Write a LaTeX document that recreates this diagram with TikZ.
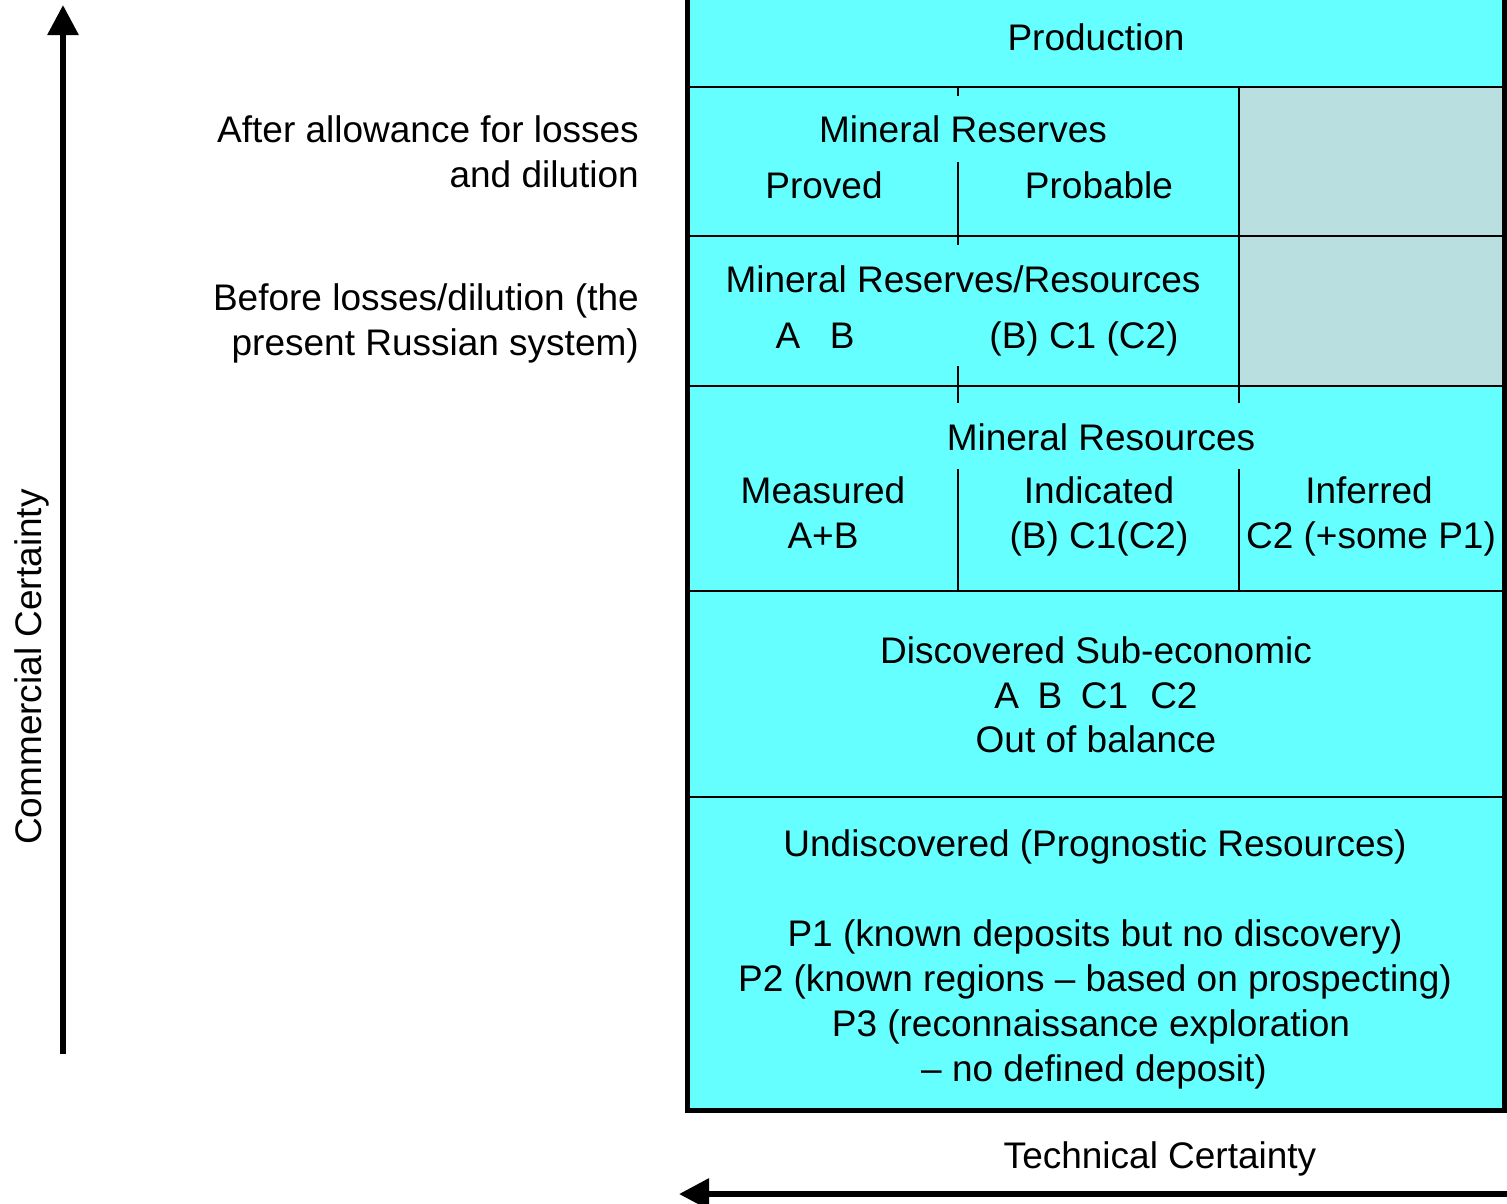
\documentclass[tikz,border=0pt]{standalone}
\usepackage{fontspec}
\setmainfont{Liberation Sans}
\usetikzlibrary{arrows.meta}
\definecolor{cellcyan}{HTML}{66FFFF}
\definecolor{cellgrey}{HTML}{B9DFE0}
\begin{document}
\begin{tikzpicture}[x=1pt,y=-1pt,
  lbl/.style={anchor=base, inner sep=0pt, font=\fontsize{37}{45}\selectfont},
  lblr/.style={lbl, anchor=base east},
  rule/.style={line width=2.2pt, black},
  frame/.style={line width=5pt, black},
  axis/.style={line width=6pt, black, -{Triangle[length=30pt,width=30pt]}}]
\useasboundingbox (0,0) rectangle (1507,1203);
% cells
\fill[cellcyan] (687,-10) rectangle (1504,1110);
\fill[cellgrey] (1239,87) rectangle (1504,386);
% horizontal rules
\foreach \yy in {87,236,386,591,797} \draw[rule] (687,\yy) -- (1504,\yy);
% vertical rules
\draw[rule] (958,87) -- (958,96);
\draw[rule] (958,162) -- (958,245);
\draw[rule] (958,366) -- (958,403);
\draw[rule] (958,469) -- (958,591);
\draw[rule] (1239,87) -- (1239,403);
\draw[rule] (1239,469) -- (1239,591);
% frame
\draw[frame] (687.5,-10) -- (687.5,1110.5) -- (1504.5,1110.5) -- (1504.5,-10);
% texts
\node[lbl] (prod) at (1096,50) {Production};
\node[lbl] (mres) at (963,142) {Mineral Reserves};
\node[lbl] (proved) at (824,198) {Proved};
\node[lbl] (probable) at (1099,198) {Probable};
\node[lbl] (mrr) at (963,292) {Mineral Reserves/Resources};
\node[lbl] (ab) at (815,348) {A\hspace{0.8em}B};
\node[lbl] (bc) at (1084,348) {(B) C1 (C2)};
\node[lbl] (mresour) at (1101,450) {Mineral Resources};
\node[lbl] (meas) at (823,503) {Measured};
\node[lbl] (meas2) at (823,548) {A+B};
\node[lbl] (ind) at (1099,503) {Indicated};
\node[lbl] (ind2) at (1099,548) {(B) C1(C2)};
\node[lbl] (inf) at (1369,503) {Inferred};
\node[lbl] (inf2) at (1371,548) {C2 (+some P1)};
\node[lbl] (disc) at (1096,663) {Discovered Sub-economic};
\node[lbl] (disc2) at (1096,708) {A\hspace{0.5em}B\hspace{0.5em}C1\hspace{0.6em}C2};
\node[lbl] (disc3) at (1096,752) {Out of balance};
\node[lbl] (und) at (1095,856) {Undiscovered (Prognostic Resources)};
\node[lbl] (p1) at (1095,946) {P1 (known deposits but no discovery)};
\node[lbl] (p2) at (1095,991) {P2 (known regions -- based on prospecting)};
\node[lbl] (p3) at (1091,1036) {P3 (reconnaissance exploration};
\node[lbl] (p3b) at (1094,1081) {-- no defined deposit)};
\node[lblr] (after1) at (639,142) {After allowance for losses};
\node[lblr] (after2) at (639,187) {and dilution};
\node[lblr] (before1) at (639,310) {Before losses/dilution (the};
\node[lblr] (before2) at (639,355) {present Russian system)};
\node[lbl, rotate=90] (comm) at (41,667) {Commercial Certainty};
\node[lbl] (tech) at (1160,1168) {Technical Certainty};
% axes
\coordinate (vstart) at (63,1054);
\coordinate (vend) at (63,5);
\coordinate (hstart) at (1510,1194);
\coordinate (hend) at (679,1194);
\draw[axis] (vstart) -- (vend);
\draw[axis] (hstart) -- (hend);
\end{tikzpicture}
\end{document}
